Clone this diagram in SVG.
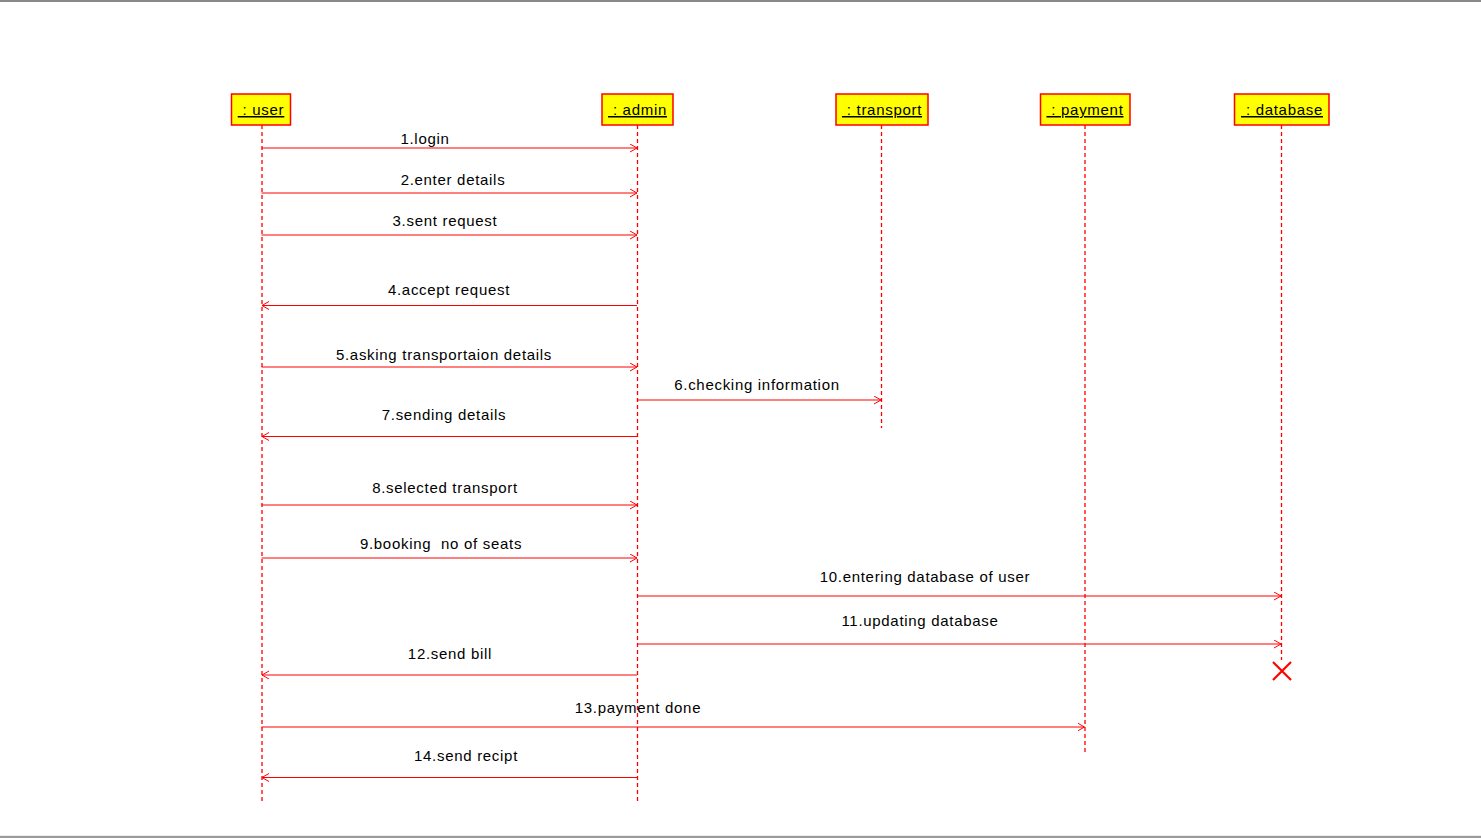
<svg xmlns="http://www.w3.org/2000/svg" width="1481" height="838" viewBox="0 0 1481 838">
<defs>
<marker id="arr" markerWidth="10" markerHeight="10" refX="7" refY="4" orient="auto" markerUnits="userSpaceOnUse">
<path d="M0,0 L7,4 L0,8" fill="none" stroke="#FF0000" stroke-width="1"/>
</marker>
<style>
.box{fill:#FFFF00;stroke:#FF0000;stroke-width:1.5}
.lbl{font-family:"Liberation Sans",Arial,sans-serif;font-size:15px;letter-spacing:0.7px;fill:#000;text-anchor:middle;text-decoration:underline}
.life{stroke:#FF0000;stroke-width:1.3;stroke-dasharray:4,3;fill:none}
.msg{stroke:#FF0000;stroke-width:1;fill:none;marker-end:url(#arr)}
.txt{font-family:"Liberation Sans",Arial,sans-serif;font-size:15px;letter-spacing:0.7px;fill:#000;text-anchor:middle}
</style>
</defs>
<rect x="0" y="0" width="1481" height="838" fill="#fff"/>
<line x1="0" y1="1" x2="1481" y2="1" stroke="#888" stroke-width="2"/>
<line x1="0" y1="835.5" x2="1481" y2="835.5" stroke="#eee" stroke-width="1"/>
<line x1="0" y1="837" x2="1481" y2="837" stroke="#999" stroke-width="2"/>

<g id="user">
<rect class="box" x="231.5" y="94" width="59" height="31"/>
<text class="lbl" x="261" y="115" xml:space="preserve"> : user</text>
<line class="life" x1="262" y1="125" x2="262" y2="804"/>
</g>
<g id="admin">
<rect class="box" x="602" y="94" width="71" height="31"/>
<text class="lbl" x="637.5" y="115" xml:space="preserve"> : admin</text>
<line class="life" x1="637.5" y1="125" x2="637.5" y2="804"/>
</g>
<g id="transport">
<rect class="box" x="836" y="94" width="92" height="31"/>
<text class="lbl" x="882" y="115" xml:space="preserve"> : transport</text>
<line class="life" x1="881.5" y1="125" x2="881.5" y2="428"/>
</g>
<g id="payment">
<rect class="box" x="1040.5" y="94" width="89.5" height="31"/>
<text class="lbl" x="1085" y="115" xml:space="preserve"> : payment</text>
<line class="life" x1="1085" y1="125" x2="1085" y2="752"/>
</g>
<g id="database">
<rect class="box" x="1234.5" y="94" width="94.5" height="31"/>
<text class="lbl" x="1282" y="115" xml:space="preserve"> : database</text>
<line class="life" x1="1281.5" y1="125" x2="1281.5" y2="660"/>
<path d="M1273,662 L1291,680 M1291,662 L1273,680" stroke="#FF0000" stroke-width="2.2" fill="none"/>
</g>

<g id="connectors">
<line class="msg" x1="261.5" y1="148" x2="637" y2="148"/>
<text class="txt" x="425" y="144">1.login</text>
<line class="msg" x1="261.5" y1="193" x2="637" y2="193"/>
<text class="txt" x="453" y="185">2.enter details</text>
<line class="msg" x1="261.5" y1="235" x2="637" y2="235"/>
<text class="txt" x="445" y="226">3.sent request</text>
<line class="msg" x1="637" y1="305.5" x2="262" y2="305.5"/>
<text class="txt" x="449" y="295">4.accept request</text>
<line class="msg" x1="261.5" y1="367" x2="637" y2="367"/>
<text class="txt" x="444" y="360">5.asking transportaion details</text>
<line class="msg" x1="637.5" y1="400" x2="881" y2="400"/>
<text class="txt" x="757" y="390">6.checking information</text>
<line class="msg" x1="637" y1="436.5" x2="262" y2="436.5"/>
<text class="txt" x="444" y="420">7.sending details</text>
<line class="msg" x1="261.5" y1="505" x2="637" y2="505"/>
<text class="txt" x="445" y="493">8.selected transport</text>
<line class="msg" x1="261.5" y1="558" x2="637" y2="558"/>
<text class="txt" x="441" y="549" xml:space="preserve">9.booking  no of seats</text>
<line class="msg" x1="637.5" y1="596" x2="1281" y2="596"/>
<text class="txt" x="925" y="582">10.entering database of user</text>
<line class="msg" x1="637.5" y1="644" x2="1281" y2="644"/>
<text class="txt" x="920" y="626">11.updating database</text>
<line class="msg" x1="637" y1="675" x2="262" y2="675"/>
<text class="txt" x="450" y="659">12.send bill</text>
<line class="msg" x1="261.5" y1="727" x2="1084.5" y2="727"/>
<text class="txt" x="638" y="713">13.payment done</text>
<line class="msg" x1="637" y1="777.5" x2="262" y2="777.5"/>
<text class="txt" x="466" y="761">14.send recipt</text>
</g>
</svg>
